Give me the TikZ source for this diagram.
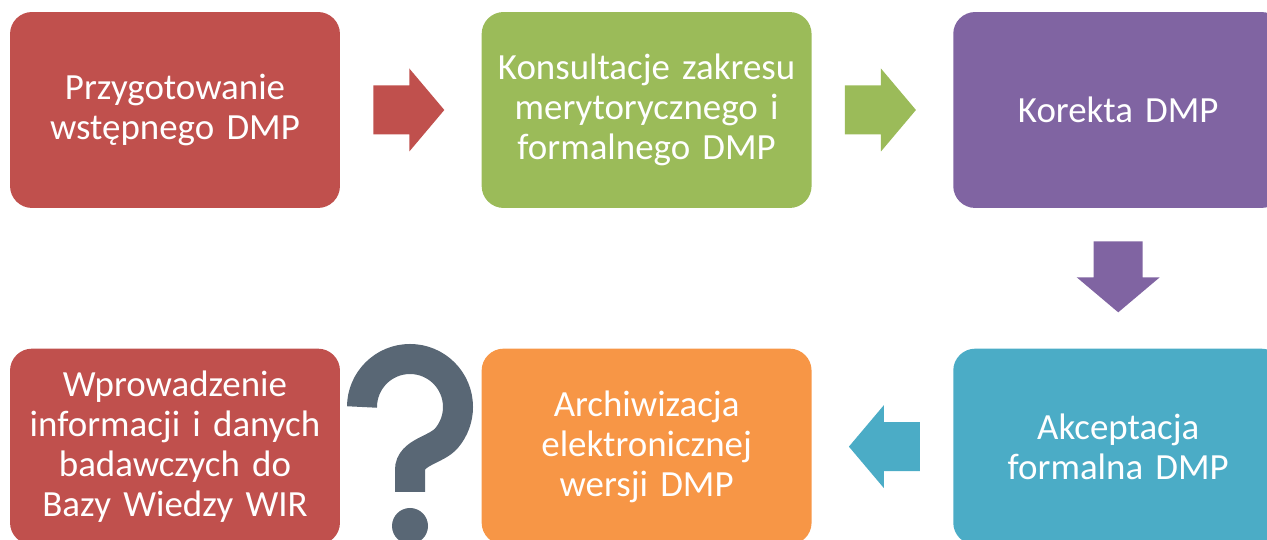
\documentclass[tikz,border=0pt]{standalone}
\usepackage{fontspec}
\setmainfont{Carlito}
\usetikzlibrary{positioning, calc}
\definecolor{dmpred}{HTML}{C0504D}
\definecolor{dmpgreen}{HTML}{9BBB59}
\definecolor{dmppurple}{HTML}{8064A2}
\definecolor{dmpblue}{HTML}{4BACC6}
\definecolor{dmporange}{HTML}{F79646}
\definecolor{qmark}{HTML}{596775}
\tikzstyle{stage} = [rectangle, rounded corners=0.44cm, minimum width=6.6cm, minimum height=3.92cm, text width=6.5cm, inner sep=0pt, align=center, text=white, font=\fontsize{21}{22.8}\selectfont]
\tikzset{stagearrow/.pic={\fill (33,24.5) -- (69,24.5) -- (69,41.5) -- (104,0) -- (69,-41.5) -- (69,-24.5) -- (33,-24.5) -- cycle;}}

\begin{document}
\begin{tikzpicture}[x=0.02cm, y=0.02cm]
  \useasboundingbox (0,0) rectangle (1267,540);
  \clip (0,0) rectangle (1267,540);
  % etapy
  \node (prep) [stage, fill=dmpred] at (175,430) {Przygotowanie\\wstępnego DMP};
  \node (cons) [stage, fill=dmpgreen, right=2.82cm of prep] {Konsultacje zakresu\\merytorycznego i\\formalnego DMP};
  \node (kor) [stage, fill=dmppurple, right=2.82cm of cons] {Korekta DMP};
  \node (akc) [stage, fill=dmpblue, below=2.8cm of kor] {Akceptacja\\formalna DMP};
  \node (arch) [stage, fill=dmporange, left=2.82cm of akc] {Archiwizacja\\elektronicznej\\wersji DMP};
  \node (wpr) [stage, fill=dmpred, left=2.82cm of arch] {Wprowadzenie\\informacji i danych\\badawczych do\\Bazy Wiedzy WIR};

  % strzalki
  \pic[color=dmpred] at (prep.east) {stagearrow};
  \pic[color=dmpgreen] at (cons.east) {stagearrow};
  \pic[color=dmppurple, rotate=-90] at (kor.south) {stagearrow};
  \pic[color=dmpblue, rotate=180] at (akc.west) {stagearrow};

  % znak zapytania
  \draw[qmark, line width=0.6cm] (362,133) arc[start angle=180, end angle=-40, radius=48] .. controls (437,90) and (410,88) .. (410,70) -- (410,48);
  \fill[qmark] (410,14) circle[radius=18];
\end{tikzpicture}
\end{document}
